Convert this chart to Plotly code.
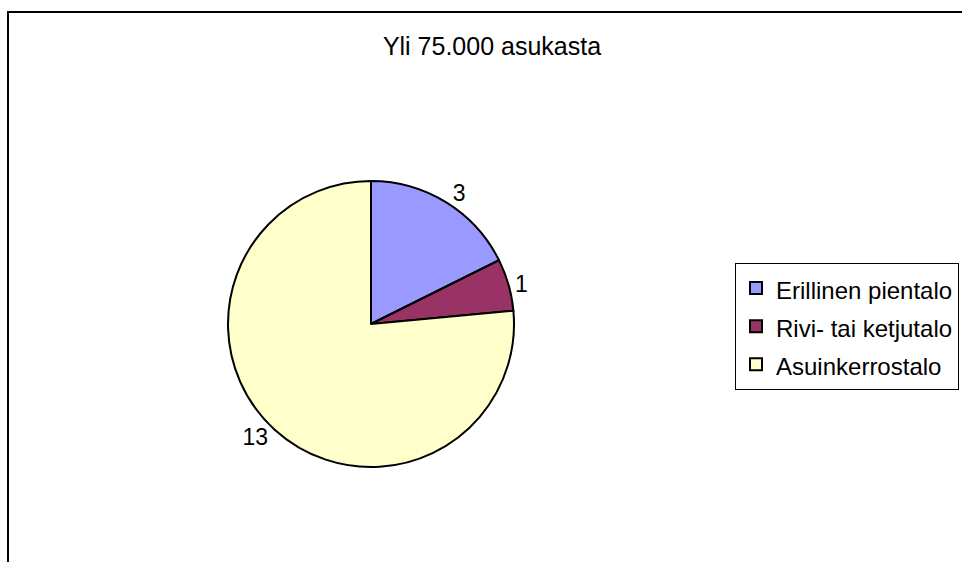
import plotly.graph_objects as go

title_text = "Yli 75.000 asukasta"
categories = ["Erillinen pientalo", "Rivi- tai ketjutalo", "Asuinkerrostalo"]
values = [3, 1, 13]
colors = ["#9999FF", "#993366", "#FFFFCC"]

W, H = 962, 562
cx, cy, r = 371, 324, 143

# legend text shown at 24px while the legend row height follows a 27px font
legend_labels = ['<span style="font-size:24px">%s</span>' % c for c in categories]

fig = go.Figure(go.Pie(
    labels=legend_labels,
    values=values,
    sort=False,
    direction="clockwise",
    rotation=0,
    marker=dict(colors=colors, line=dict(color="black", width=2)),
    textinfo="value",
    textposition="outside",
    textfont=dict(family="Liberation Sans, Arial, sans-serif", size=23, color="black"),
    domain=dict(x=[(cx - r) / W, (cx + r) / W], y=[1 - (cy + r) / H, 1 - (cy - r) / H]),
    hoverinfo="label+value",
))

fig.update_layout(
    width=W, height=H,
    margin=dict(l=0, r=0, t=0, b=0),
    paper_bgcolor="white",
    font=dict(family="Liberation Sans, Arial, sans-serif", color="black"),
    title=dict(text=title_text, x=492 / W, xanchor="center", y=1 - 46 / H, yanchor="middle",
               font=dict(size=25, color="black")),
    legend=dict(
        x=735 / W, xanchor="left", y=1 - 263 / H, yanchor="top",
        bordercolor="black", borderwidth=1, bgcolor="white",
        font=dict(size=27, color="black"),
        entrywidth=250,
    ),
    shapes=[dict(type="rect", xref="paper", yref="paper",
                 x0=8 / W, x1=1.2, y0=-0.2, y1=1 - 12 / H,
                 line=dict(color="black", width=2), fillcolor="rgba(0,0,0,0)", layer="below")],
)

fig.write_html("out.html", config={"displayModeBar": False},
               post_script="document.body.style.margin='0';")
